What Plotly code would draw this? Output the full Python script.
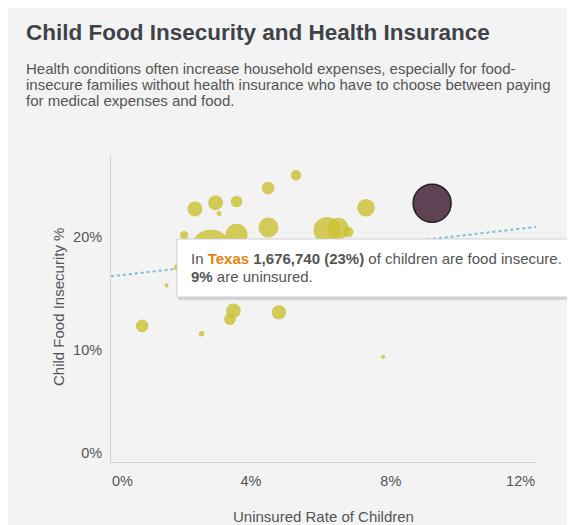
import plotly.graph_objects as go

# ---------------- data ----------------
uninsured_rate = [2.40, 2.99, 3.09, 3.59, 4.49, 5.29, 7.29, 4.50, 2.09, 6.17, 6.49, 6.78,
                  2.86, 3.59, 1.59, 0.89, 3.50, 3.40, 4.80, 2.59, 7.78, 4.00, 1.89]
food_insecurity = [22.5, 23.05, 22.1, 23.15, 24.35, 25.5, 22.6, 20.85, 20.15, 20.6, 20.75, 20.45,
                   18.9, 20.2, 15.7, 12.1, 13.45, 12.7, 13.3, 11.4, 9.35, 15.2, 17.3]
children_fi = [261000, 261000, 29000, 156000, 184000, 130000, 360000, 464000, 82000, 822000, 542000, 130000,
               1858000, 562000, 18600, 184000, 247000, 156000, 241000, 33800, 18600, 167000, 42000]

hl_state = "Texas"
hl_uninsured = [9.18]
hl_insecurity = [23.0]
hl_children = [1676740]

trend_x = [0, 12.15]
trend_y = [16.5, 20.9]

x_tickvals = [0.33, 4, 8, 11.71]
x_ticktext = ["0%", "4%", "8%", "12%"]
y_tickvals = [0.8, 10, 20]
y_ticktext = ["0%", "10%", "20%"]

title_text = "Child Food Insecurity and Health Insurance"
subtitle_lines = [
    "Health conditions often increase household expenses, especially for food-",
    "insecure families without health insurance who have to choose between paying",
    "for medical expenses and food.",
]

# ---------------- layout helpers ----------------
W, H = 575, 525
OFF = 8  # page body margin
ML, MR, MT, MB = 111 - OFF, W - (536 - OFF), 155 - OFF, H - (462 - OFF)
PW, PH = W - ML - MR, H - MT - MB


def px(xs):
    return (xs - OFF - ML) / PW


def py(ys):
    return (H - MB - (ys - OFF)) / PH


FONT = "Liberation Sans, Arial, sans-serif"
TXT = "#555555"
sizeref = 2.0 * hl_children[0] / (38 ** 2)

fig = go.Figure()

fig.add_trace(go.Scatter(
    x=trend_x, y=trend_y, mode="lines",
    line=dict(color="#7fbfd3", width=2, dash="dot"),
    hoverinfo="skip", showlegend=False, cliponaxis=False))

fig.add_trace(go.Scatter(
    x=uninsured_rate, y=food_insecurity, mode="markers",
    marker=dict(size=children_fi, sizemode="area", sizeref=sizeref, opacity=1,
                color="rgba(204,194,52,0.82)", line=dict(width=0)),
    showlegend=False, cliponaxis=False))

fig.add_trace(go.Scatter(
    x=hl_uninsured, y=hl_insecurity, mode="markers", text=[hl_state],
    marker=dict(size=hl_children, sizemode="area", sizeref=sizeref, opacity=1,
                color="#5f4254", line=dict(width=1.5, color="#222222")),
    showlegend=False, cliponaxis=False))

shapes = [
    # tooltip shadow
    dict(type="rect", xref="paper", yref="paper", x0=px(178), x1=px(570), y0=py(300), y1=py(241),
         fillcolor="rgba(0,0,0,0.13)", line=dict(width=0), layer="above"),
    # tooltip box
    dict(type="rect", xref="paper", yref="paper", x0=px(177), x1=px(568), y0=py(297), y1=py(239),
         fillcolor="#ffffff", line=dict(width=1, color="#cfcfcf"), layer="above"),
]

ann = []
ann.append(dict(text="<b>" + title_text + "</b>", x=px(24), y=py(32), xref="paper", yref="paper",
                xanchor="left", yanchor="middle", showarrow=False,
                font=dict(family=FONT, size=22.5, color="#3f4347")))
for i, line in enumerate(subtitle_lines):
    ann.append(dict(text=line, x=px(24), y=py(68 + 16.5 * i), xref="paper", yref="paper",
                    xanchor="left", yanchor="middle", showarrow=False,
                    font=dict(family=FONT, size=15, color=TXT)))

ann.append(dict(text="In <span style='color:#e8820c'><b>" + hl_state + "</b></span> <b>1,676,740 (23%)</b>"
                     " of children are food insecure.",
                x=px(189), y=py(258), xref="paper", yref="paper", xanchor="left", yanchor="middle",
                showarrow=False, font=dict(family=FONT, size=15, color=TXT)))
ann.append(dict(text="<b>9%</b> are uninsured.",
                x=px(189), y=py(276), xref="paper", yref="paper", xanchor="left", yanchor="middle",
                showarrow=False, font=dict(family=FONT, size=15, color=TXT)))

ann.append(dict(text="Uninsured Rate of Children", x=px(323.5), y=py(516), xref="paper", yref="paper",
                xanchor="center", yanchor="middle", showarrow=False,
                font=dict(family=FONT, size=15, color=TXT)))
ann.append(dict(text="Child Food Insecurity %", x=px(58), y=py(307), xref="paper", yref="paper",
                xanchor="center", yanchor="middle", showarrow=False, textangle=-90,
                font=dict(family=FONT, size=15, color=TXT)))

fig.update_layout(
    width=W, height=H,
    margin=dict(l=ML, r=MR, t=MT, b=MB),
    paper_bgcolor="#f3f3f3", plot_bgcolor="#f3f3f3",
    shapes=shapes, annotations=ann,
    hovermode=False,
    xaxis=dict(range=[0, 12.15], showgrid=False, zeroline=False, showline=True, linecolor="#d4d4d4",
               linewidth=1, tickvals=x_tickvals, ticktext=x_ticktext, ticks="outside", ticklen=6,
               tickcolor="rgba(0,0,0,0)", tickfont=dict(family=FONT, size=14.5, color=TXT), fixedrange=True),
    yaxis=dict(range=[0, 27.29], showgrid=False, zeroline=False, showline=True, linecolor="#d4d4d4",
               linewidth=1, tickvals=y_tickvals, ticktext=y_ticktext, ticks="outside", ticklen=5,
               tickcolor="rgba(0,0,0,0)", tickfont=dict(family=FONT, size=14.5, color=TXT), fixedrange=True),
)

fig.write_html("out.html", config={"displayModeBar": False})
